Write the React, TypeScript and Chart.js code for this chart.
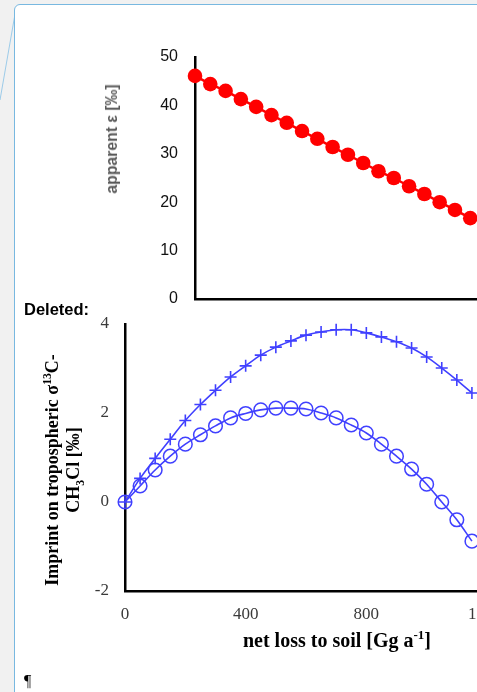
import React, { useEffect, useRef } from "react";
import { Chart, registerables } from "chart.js";

Chart.register(...registerables);

// ---- data ----
const epsilonLoss = [0, 50, 100, 150, 200, 250, 300, 350, 400, 450, 500, 550, 600, 650, 700, 750, 800, 850, 900];
const epsilonValues = [46.1, 44.4, 43.0, 41.3, 39.7, 38.0, 36.4, 34.7, 33.1, 31.4, 29.8, 28.1, 26.4, 25.0, 23.3, 21.7, 20.0, 18.4, 16.7];

const imprintLoss = [0, 50, 100, 150, 200, 250, 300, 350, 400, 450, 500, 550, 600, 650, 700, 750, 800, 850, 900, 950, 1000, 1050, 1100, 1150];
const plusImprint = [0, 0.53, 0.98, 1.41, 1.83, 2.19, 2.51, 2.81, 3.06, 3.30, 3.48, 3.62, 3.75, 3.82, 3.87, 3.87, 3.80, 3.71, 3.60, 3.46, 3.26, 3.01, 2.74, 2.45];
const circleImprint = [0, 0.36, 0.72, 1.03, 1.30, 1.51, 1.71, 1.89, 1.99, 2.07, 2.11, 2.11, 2.09, 2.00, 1.89, 1.73, 1.55, 1.30, 1.03, 0.74, 0.40, 0.00, -0.40, -0.88];

const epsTicks = { min: 0, max: 50, step: 10 };
const imprintTicks = { min: -2, max: 4, step: 2 };
const lossTicks = { min: 0, max: 1200, step: 400 };

const SANS = "'Liberation Sans', Arial, sans-serif";
const SERIF = "'Liberation Serif', 'Times New Roman', serif";
const BLUE = "#4040ff";

function EpsilonChart() {
  const ref = useRef<HTMLCanvasElement>(null);
  useEffect(() => {
    const chart = new Chart(ref.current!, {
      type: "line",
      data: {
        datasets: [
          {
            data: epsilonLoss.map((x, i) => ({ x, y: epsilonValues[i] })),
            borderColor: "#ff0000",
            backgroundColor: "#ff0000",
            pointBackgroundColor: "#ff0000",
            borderWidth: 2.5,
            pointRadius: 7.3,
            pointBorderWidth: 0,
            tension: 0,
            clip: false,
          } as any,
        ],
      },
      options: {
        animation: false,
        responsive: false,
        events: [],
        layout: { padding: { left: 0, top: 57, right: 58, bottom: 9 } },
        plugins: { legend: { display: false }, tooltip: { enabled: false } },
        scales: {
          x: {
            type: "linear",
            min: lossTicks.min,
            max: lossTicks.max,
            ticks: { display: false },
            grid: { display: false, drawTicks: false },
            border: { display: true, color: "#000", width: 2.5 },
            afterFit: (s: any) => { s.height = 12; },
          },
          y: {
            min: epsTicks.min,
            max: epsTicks.max,
            ticks: { stepSize: epsTicks.step, padding: 17, color: "#111", font: { family: SANS, size: 16 } },
            grid: { display: false, drawTicks: false },
            border: { display: true, color: "#000", width: 2.5 },
            afterFit: (s: any) => { s.width = 195; s.paddingTop = 0; s.paddingBottom = 0; },
          },
        },
      },
    });
    return () => chart.destroy();
  }, []);
  return (
    <canvas
      ref={ref}
      width={620}
      height={320}
      style={{ position: "absolute", left: 0, top: 0, width: 620, height: 320 }}
    />
  );
}

function ImprintChart() {
  const ref = useRef<HTMLCanvasElement>(null);
  useEffect(() => {
    const chart = new Chart(ref.current!, {
      type: "line",
      data: {
        datasets: [
          {
            label: "+",
            data: imprintLoss.map((x, i) => ({ x, y: plusImprint[i] })),
            borderColor: BLUE,
            backgroundColor: "transparent",
            pointBorderColor: BLUE,
            pointBackgroundColor: "transparent",
            borderWidth: 1.6,
            pointStyle: "cross",
            pointRadius: 6,
            pointBorderWidth: 1.6,
            tension: 0.3,
            clip: false,
          } as any,
          {
            label: "o",
            data: imprintLoss.map((x, i) => ({ x, y: circleImprint[i] })),
            borderColor: BLUE,
            backgroundColor: "transparent",
            pointBorderColor: BLUE,
            pointBackgroundColor: "transparent",
            borderWidth: 1.6,
            pointStyle: "circle",
            pointRadius: 6.8,
            pointBorderWidth: 1.5,
            tension: 0.3,
            clip: false,
          } as any,
        ],
      },
      options: {
        animation: false,
        responsive: false,
        events: [],
        layout: { padding: { left: 0, top: 24, right: 133, bottom: 0 } },
        plugins: { legend: { display: false }, tooltip: { enabled: false } },
        scales: {
          x: {
            type: "linear",
            min: lossTicks.min,
            max: lossTicks.max,
            ticks: { stepSize: lossTicks.step, padding: 13, color: "#3a3a3a", font: { family: SERIF, size: 17 } },
            grid: { display: false, drawTicks: false },
            border: { display: true, color: "#000", width: 2.5 },
            afterFit: (s: any) => { s.height = 69; },
          },
          y: {
            min: imprintTicks.min,
            max: imprintTicks.max,
            ticks: { stepSize: imprintTicks.step, padding: 16, color: "#3a3a3a", font: { family: SERIF, size: 17 } },
            grid: { display: false, drawTicks: false },
            border: { display: true, color: "#000", width: 2.5 },
            afterFit: (s: any) => { s.width = 125; s.paddingTop = 0; s.paddingBottom = 0; },
          },
        },
      },
    });
    return () => chart.destroy();
  }, []);
  return (
    <canvas
      ref={ref}
      width={620}
      height={360}
      style={{ position: "absolute", left: 0, top: 300, width: 620, height: 360 }}
    />
  );
}

const rotated = (cx: number, cy: number): React.CSSProperties => ({
  position: "absolute",
  left: cx,
  top: cy,
  transform: "translate(-50%, -50%) rotate(-90deg)",
  whiteSpace: "nowrap",
});

export default function App() {
  return (
    <div
      style={{
        position: "fixed",
        left: 0,
        top: 0,
        width: 477,
        height: 692,
        overflow: "hidden",
        background: "#f1f1f1",
      }}
    >
      <svg width={477} height={692} style={{ position: "absolute", left: 0, top: 0 }}>
        <line x1={14.5} y1={17} x2={0} y2={100} stroke="#9ccbe9" strokeWidth={1} />
      </svg>
      <div
        style={{
          position: "absolute",
          left: 14,
          top: 4,
          width: 700,
          height: 900,
          background: "#fff",
          border: "1.5px solid #78b8e0",
          borderRadius: 6,
          boxSizing: "border-box",
        }}
      />
      <EpsilonChart />
      <ImprintChart />

      <div style={{ ...rotated(112, 139), fontFamily: SANS, fontWeight: "bold", fontSize: 15.8, color: "#595959" }}>
        apparent ε [‰]
      </div>

      <div
        style={{
          ...rotated(62.5, 470),
          fontFamily: SERIF,
          fontWeight: "bold",
          fontSize: 18,
          color: "#000",
          textAlign: "center",
          lineHeight: "21px",
        }}
      >
        <div>
          Imprint on tropospheric σ<span style={{ fontSize: "0.65em", verticalAlign: "super", lineHeight: 0 }}>13</span>C-
        </div>
        <div>
          CH<span style={{ fontSize: "0.65em", verticalAlign: "sub", lineHeight: 0 }}>3</span>Cl [‰]
        </div>
      </div>

      <div
        style={{
          position: "absolute",
          left: 337,
          top: 640,
          transform: "translate(-50%, -50%)",
          whiteSpace: "nowrap",
          fontFamily: SERIF,
          fontWeight: "bold",
          fontSize: 20,
          color: "#000",
        }}
      >
        net loss to soil [Gg a<span style={{ fontSize: "0.65em", verticalAlign: "super", lineHeight: 0 }}>-1</span>]
      </div>

      <div
        style={{
          position: "absolute",
          left: 24,
          top: 300,
          fontFamily: SANS,
          fontWeight: "bold",
          fontSize: 16.5,
          lineHeight: "18px",
          color: "#000",
        }}
      >
        Deleted:
      </div>

      <div
        style={{
          position: "absolute",
          left: 24,
          top: 672,
          fontFamily: SERIF,
          fontSize: 16,
          lineHeight: "18px",
          color: "#000",
        }}
      >
        ¶
      </div>
    </div>
  );
}
